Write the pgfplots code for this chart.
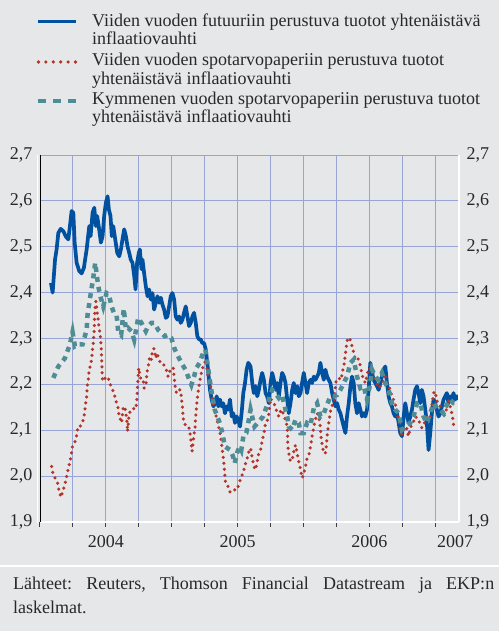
\documentclass[border=0pt]{standalone}
\usepackage{fontspec}
\setmainfont{Liberation Serif}
\usepackage{pgfplots}
\pgfplotsset{compat=1.18}
\definecolor{bg}{RGB}{230,231,233}
\definecolor{gridc}{RGB}{152,163,214}
\definecolor{fut}{RGB}{0,82,160}
\definecolor{spotfive}{RGB}{180,52,42}
\definecolor{spotten}{RGB}{78,140,150}
\definecolor{txt}{RGB}{40,40,40}
\newcommand{\fs}{\fontsize{18}{19}\selectfont}
\frenchspacing
\pgfplotsset{
  commay/.style={
    yticklabel style={
      /pgf/number format/fixed,
      /pgf/number format/fixed zerofill,
      /pgf/number format/precision=1,
      /pgf/number format/use comma,
      /pgf/number format/assume math mode=true}
  }
}

\begin{document}
\frenchspacing
\begin{tikzpicture}
\fill[bg] (0pt,0pt) rectangle (499pt,631pt);
\useasboundingbox (0pt,0pt) rectangle (499pt,631pt);

% legend
\draw[fut, line width=3.8pt] (38pt,609.5pt) -- (76pt,609.5pt);
\node[anchor=base west, font=\fs, text=txt, inner sep=0pt] at (92pt,604.3pt) {Viiden vuoden futuuriin perustuva tuotot yhtenäistävä};
\node[anchor=base west, font=\fs, text=txt, inner sep=0pt] at (92pt,586pt) {inflaatiovauhti};
\draw[spotfive, line width=3.6pt, line cap=round, dash pattern=on 0pt off 7.4pt] (38.5pt,569pt) -- (77pt,569pt);
\node[anchor=base west, font=\fs, text=txt, inner sep=0pt] at (92pt,565pt) {Viiden vuoden spotarvopaperiin perustuva tuotot};
\node[anchor=base west, font=\fs, text=txt, inner sep=0pt] at (92pt,546pt) {yhtenäistävä inflaatiovauhti};
\draw[spotten, line width=4.5pt, dash pattern=on 8pt off 7pt] (38pt,530pt) -- (77pt,530pt);
\node[anchor=base west, font=\fs, text=txt, inner sep=0pt] at (92pt,526pt) {Kymmenen vuoden spotarvopaperiin perustuva tuotot};
\node[anchor=base west, font=\fs, text=txt, inner sep=0pt] at (92pt,508pt) {yhtenäistävä inflaatiovauhti};

% separator and source
\fill[white] (0pt,63.5pt) rectangle (499pt,65.5pt);
\node[anchor=base west, font=\fs, text=txt, inner sep=0pt] at (13pt,41pt) {\makebox[481pt][s]{Lähteet: Reuters, Thomson Financial Datastream ja EKP:n}};
\node[anchor=base west, font=\fs, text=txt, inner sep=0pt] at (13pt,17.5pt) {laskelmat.};

\draw[white, line width=1.3pt] (37.6pt,108pt) -- (37.6pt,476pt);

\begin{axis}[
  at={(40pt,109pt)}, anchor=south west, scale only axis,
  width=419pt, height=367pt,
  xmin=2004, xmax=2007.18, ymin=1.9, ymax=2.7,
  axis x line*=bottom, axis y line*=left,
  x axis line style={white, line width=1.6pt},
  y axis line style={black, line width=0.9pt},
  xtick={2004.5,2005.5,2006.5,2007.15},
  xticklabels={2004,2005,2006,2007},
  minor xtick={2004,2004.25,2004.5,2004.75,2005,2005.25,2005.5,2005.75,2006,2006.25,2006.5,2006.75,2007},
  major tick length=0pt, minor tick length=5pt,
  xtick align=outside,
  minor x tick style={draw={rgb,255:red,60;green,60;blue,60}, line width=1pt},
  xmajorgrids=false, xminorgrids=true, ymajorgrids=true,
  grid style={gridc, line width=0.9pt},
  minor grid style={gridc, line width=0.9pt},
  ytick={1.9,2.0,2.1,2.2,2.3,2.4,2.5,2.6,2.7},
  ytick style={draw=none},
  ticklabel style={font=\fs, text=txt},
  commay,
  yticklabel style={anchor=east, xshift=-4pt},
  xticklabel style={anchor=base, yshift=-26pt},
  axis background/.style={fill=bg},
]
% five-year futures based
\addplot[fut, line width=3.7pt, line join=round] table {
2004.083 2.421
2004.096 2.400
2004.114 2.472
2004.126 2.494
2004.139 2.530
2004.157 2.539
2004.177 2.534
2004.197 2.522
2004.215 2.516
2004.227 2.545
2004.240 2.578
2004.253 2.574
2004.263 2.509
2004.278 2.465
2004.298 2.447
2004.316 2.442
2004.333 2.454
2004.354 2.494
2004.374 2.545
2004.384 2.523
2004.399 2.574
2004.412 2.585
2004.424 2.545
2004.434 2.567
2004.449 2.538
2004.462 2.509
2004.475 2.523
2004.487 2.567
2004.500 2.596
2004.513 2.610
2004.523 2.581
2004.535 2.567
2004.545 2.523
2004.556 2.545
2004.571 2.516
2004.586 2.487
2004.601 2.479
2004.614 2.494
2004.626 2.516
2004.639 2.538
2004.652 2.523
2004.664 2.501
2004.677 2.487
2004.689 2.472
2004.702 2.465
2004.715 2.436
2004.725 2.407
2004.737 2.465
2004.750 2.487
2004.758 2.494
2004.770 2.451
2004.778 2.472
2004.790 2.443
2004.803 2.414
2004.816 2.392
2004.828 2.407
2004.841 2.385
2004.854 2.399
2004.866 2.363
2004.879 2.378
2004.891 2.392
2004.904 2.378
2004.917 2.389
2004.929 2.374
2004.942 2.363
2004.955 2.345
2004.967 2.348
2004.980 2.370
2004.992 2.392
2005.005 2.399
2005.018 2.385
2005.030 2.348
2005.043 2.341
2005.056 2.348
2005.068 2.334
2005.081 2.341
2005.093 2.356
2005.106 2.370
2005.119 2.348
2005.131 2.327
2005.144 2.334
2005.157 2.348
2005.169 2.356
2005.182 2.334
2005.194 2.305
2005.207 2.298
2005.220 2.298
2005.232 2.290
2005.245 2.290
2005.258 2.276
2005.270 2.247
2005.280 2.217
2005.290 2.188
2005.303 2.167
2005.316 2.152
2005.328 2.159
2005.341 2.174
2005.354 2.152
2005.366 2.167
2005.379 2.152
2005.391 2.159
2005.404 2.137
2005.417 2.152
2005.429 2.145
2005.442 2.167
2005.455 2.130
2005.467 2.137
2005.480 2.116
2005.492 2.130
2005.505 2.123
2005.518 2.108
2005.530 2.137
2005.543 2.181
2005.556 2.203
2005.568 2.232
2005.581 2.247
2005.598 2.239
2005.611 2.203
2005.623 2.181
2005.636 2.196
2005.649 2.174
2005.661 2.188
2005.674 2.210
2005.686 2.225
2005.699 2.210
2005.712 2.181
2005.724 2.174
2005.737 2.159
2005.750 2.203
2005.762 2.225
2005.775 2.210
2005.787 2.188
2005.800 2.203
2005.813 2.174
2005.825 2.203
2005.838 2.225
2005.851 2.217
2005.863 2.203
2005.876 2.167
2005.888 2.137
2005.901 2.159
2005.914 2.188
2005.926 2.203
2005.939 2.181
2005.952 2.196
2005.964 2.174
2005.977 2.181
2005.989 2.203
2006.002 2.225
2006.015 2.203
2006.027 2.181
2006.040 2.203
2006.053 2.210
2006.065 2.203
2006.078 2.217
2006.090 2.210
2006.103 2.217
2006.116 2.225
2006.128 2.247
2006.141 2.225
2006.154 2.210
2006.166 2.232
2006.179 2.217
2006.191 2.210
2006.204 2.203
2006.217 2.181
2006.229 2.167
2006.242 2.152
2006.255 2.159
2006.267 2.145
2006.280 2.137
2006.292 2.123
2006.305 2.108
2006.318 2.094
2006.330 2.130
2006.343 2.159
2006.356 2.196
2006.368 2.217
2006.381 2.203
2006.393 2.159
2006.406 2.137
2006.419 2.159
2006.431 2.145
2006.444 2.130
2006.457 2.137
2006.469 2.130
2006.482 2.145
2006.494 2.188
2006.507 2.247
2006.520 2.225
2006.532 2.210
2006.545 2.203
2006.558 2.196
2006.570 2.188
2006.583 2.203
2006.595 2.217
2006.608 2.232
2006.621 2.239
2006.633 2.203
2006.646 2.174
2006.659 2.159
2006.671 2.152
2006.684 2.137
2006.696 2.130
2006.709 2.137
2006.722 2.116
2006.734 2.094
2006.747 2.087
2006.760 2.130
2006.772 2.159
2006.785 2.137
2006.797 2.116
2006.810 2.130
2006.823 2.145
2006.835 2.167
2006.848 2.188
2006.861 2.196
2006.873 2.181
2006.886 2.159
2006.898 2.188
2006.911 2.174
2006.924 2.145
2006.936 2.116
2006.949 2.057
2006.962 2.094
2006.974 2.137
2006.987 2.167
2006.999 2.159
2007.012 2.145
2007.025 2.130
2007.037 2.137
2007.050 2.152
2007.063 2.167
2007.075 2.174
2007.088 2.181
2007.100 2.159
2007.113 2.174
2007.126 2.167
2007.138 2.181
2007.151 2.167
2007.164 2.174
2007.176 2.167
};
% five-year spot based
\addplot[spotfive, line width=3.5pt, line cap=round, line join=round, dash pattern=on 0pt off 6pt] table {
2004.088 2.021
2004.101 2.003
2004.114 1.996
2004.131 1.988
2004.144 1.970
2004.159 1.954
2004.177 1.970
2004.194 1.988
2004.207 2.006
2004.222 2.025
2004.235 2.043
2004.247 2.065
2004.260 2.072
2004.273 2.079
2004.280 2.094
2004.290 2.108
2004.303 2.108
2004.316 2.112
2004.328 2.123
2004.338 2.137
2004.346 2.155
2004.354 2.174
2004.359 2.196
2004.366 2.210
2004.374 2.232
2004.384 2.243
2004.391 2.254
2004.399 2.276
2004.404 2.290
2004.409 2.308
2004.412 2.327
2004.414 2.345
2004.417 2.363
2004.419 2.374
2004.424 2.381
2004.429 2.370
2004.434 2.356
2004.442 2.341
2004.447 2.327
2004.455 2.312
2004.460 2.298
2004.465 2.279
2004.467 2.261
2004.470 2.243
2004.472 2.225
2004.475 2.207
2004.485 2.210
2004.495 2.214
2004.505 2.217
2004.518 2.214
2004.530 2.203
2004.543 2.192
2004.556 2.185
2004.568 2.174
2004.581 2.159
2004.593 2.148
2004.601 2.130
2004.611 2.123
2004.619 2.116
2004.631 2.148
2004.644 2.152
2004.652 2.137
2004.662 2.112
2004.664 2.097
2004.677 2.137
2004.694 2.145
2004.707 2.148
2004.720 2.145
2004.732 2.155
2004.737 2.174
2004.740 2.196
2004.745 2.217
2004.750 2.236
2004.758 2.217
2004.770 2.210
2004.783 2.210
2004.790 2.192
2004.803 2.196
2004.813 2.228
2004.826 2.247
2004.833 2.261
2004.846 2.254
2004.854 2.276
2004.866 2.278
2004.879 2.257
2004.889 2.268
2004.902 2.254
2004.914 2.247
2004.927 2.247
2004.939 2.243
2004.952 2.236
2004.965 2.228
2004.972 2.217
2004.985 2.228
2004.997 2.236
2005.010 2.236
2005.018 2.217
2005.023 2.203
2005.030 2.185
2005.040 2.181
2005.053 2.188
2005.066 2.188
2005.073 2.170
2005.081 2.152
2005.086 2.130
2005.091 2.116
2005.104 2.112
2005.116 2.108
2005.129 2.108
2005.141 2.090
2005.149 2.068
2005.154 2.054
2005.162 2.072
2005.169 2.090
2005.177 2.108
2005.182 2.130
2005.187 2.148
2005.194 2.170
2005.202 2.188
2005.212 2.207
2005.225 2.225
2005.237 2.239
2005.250 2.247
2005.258 2.254
2005.268 2.232
2005.275 2.217
2005.283 2.210
2005.293 2.199
2005.301 2.185
2005.308 2.170
2005.318 2.152
2005.331 2.137
2005.343 2.123
2005.356 2.108
2005.366 2.094
2005.376 2.076
2005.384 2.057
2005.391 2.039
2005.396 2.025
2005.402 2.006
2005.407 1.988
2005.419 1.985
2005.439 1.966
2005.457 1.964
2005.477 1.970
2005.495 1.970
2005.508 1.981
2005.520 1.992
2005.535 2.003
2005.548 2.014
2005.561 2.028
2005.573 2.039
2005.586 2.054
2005.598 2.061
2005.611 2.039
2005.623 2.021
2005.636 2.014
2005.649 2.032
2005.661 2.050
2005.674 2.057
2005.686 2.076
2005.699 2.094
2005.712 2.116
2005.724 2.119
2005.737 2.137
2005.750 2.170
2005.762 2.163
2005.775 2.159
2005.787 2.152
2005.800 2.137
2005.813 2.130
2005.825 2.141
2005.838 2.145
2005.851 2.130
2005.863 2.123
2005.876 2.108
2005.881 2.068
2005.888 2.050
2005.901 2.032
2005.914 2.036
2005.926 2.054
2005.939 2.068
2005.952 2.050
2005.964 2.032
2005.977 2.014
2005.989 1.996
2006.002 2.006
2006.015 2.021
2006.027 2.039
2006.040 2.046
2006.053 2.065
2006.065 2.086
2006.078 2.108
2006.090 2.123
2006.103 2.137
2006.116 2.130
2006.128 2.105
2006.133 2.086
2006.141 2.068
2006.154 2.050
2006.166 2.050
2006.174 2.068
2006.179 2.086
2006.186 2.105
2006.199 2.130
2006.209 2.148
2006.224 2.159
2006.237 2.174
2006.242 2.196
2006.249 2.210
2006.267 2.214
2006.285 2.210
2006.297 2.228
2006.310 2.247
2006.318 2.268
2006.325 2.283
2006.335 2.301
2006.350 2.301
2006.361 2.290
2006.373 2.279
2006.386 2.261
2006.398 2.254
2006.411 2.257
2006.424 2.250
2006.436 2.232
2006.449 2.217
2006.469 2.203
2006.494 2.236
2006.520 2.232
2006.545 2.210
2006.570 2.192
2006.595 2.199
2006.621 2.217
2006.633 2.203
2006.659 2.188
2006.671 2.174
2006.696 2.159
2006.709 2.137
2006.722 2.123
2006.734 2.101
2006.747 2.090
2006.760 2.101
2006.780 2.108
2006.797 2.087
2006.810 2.105
2006.835 2.119
2006.848 2.130
2006.873 2.123
2006.886 2.112
2006.898 2.105
2006.924 2.119
2006.936 2.130
2006.962 2.127
2006.974 2.152
2006.982 2.170
2006.992 2.185
2007.007 2.174
2007.017 2.159
2007.037 2.152
2007.050 2.137
2007.063 2.130
2007.075 2.137
2007.088 2.148
2007.100 2.167
2007.113 2.152
2007.126 2.137
2007.143 2.105
};
% ten-year spot based
\addplot[spotten, line width=4.5pt, dash pattern=on 5pt off 5pt] table {
2004.101 2.214
2004.139 2.239
2004.189 2.257
2004.227 2.287
2004.247 2.314
2004.265 2.283
2004.290 2.287
2004.323 2.287
2004.354 2.319
2004.361 2.352
2004.384 2.396
2004.404 2.432
2004.419 2.465
2004.442 2.414
2004.462 2.388
2004.480 2.370
2004.505 2.399
2004.523 2.396
2004.543 2.370
2004.561 2.356
2004.581 2.352
2004.593 2.316
2004.616 2.308
2004.636 2.365
2004.652 2.319
2004.669 2.323
2004.694 2.316
2004.715 2.297
2004.732 2.323
2004.745 2.345
2004.770 2.334
2004.803 2.316
2004.821 2.327
2004.846 2.334
2004.871 2.334
2004.896 2.319
2004.922 2.312
2004.947 2.305
2004.972 2.308
2004.997 2.301
2005.023 2.276
2005.048 2.261
2005.073 2.247
2005.104 2.232
2005.124 2.217
2005.149 2.199
2005.169 2.217
2005.187 2.236
2005.212 2.247
2005.237 2.268
2005.255 2.276
2005.270 2.247
2005.288 2.210
2005.308 2.174
2005.326 2.145
2005.346 2.130
2005.364 2.116
2005.384 2.094
2005.402 2.065
2005.422 2.061
2005.444 2.057
2005.465 2.043
2005.477 2.028
2005.495 2.050
2005.515 2.065
2005.528 2.057
2005.545 2.090
2005.566 2.094
2005.581 2.116
2005.598 2.145
2005.628 2.108
2005.694 2.130
2005.712 2.145
2005.762 2.188
2005.787 2.181
2005.813 2.170
2005.838 2.177
2005.851 2.159
2005.876 2.130
2005.888 2.108
2005.914 2.101
2005.939 2.123
2005.964 2.116
2005.977 2.094
2006.002 2.094
2006.027 2.116
2006.053 2.112
2006.078 2.148
2006.103 2.159
2006.128 2.130
2006.154 2.137
2006.179 2.156
2006.204 2.174
2006.229 2.174
2006.255 2.177
2006.280 2.188
2006.305 2.203
2006.330 2.217
2006.356 2.247
2006.381 2.254
2006.406 2.217
2006.431 2.192
2006.457 2.196
2006.482 2.167
2006.507 2.203
2006.520 2.232
2006.545 2.217
2006.570 2.210
2006.595 2.225
2006.621 2.203
2006.646 2.188
2006.671 2.159
2006.696 2.145
2006.722 2.137
2006.747 2.101
2006.772 2.108
2006.810 2.116
2006.835 2.130
2006.861 2.159
2006.886 2.159
2006.911 2.130
2006.936 2.116
2006.962 2.137
2006.987 2.159
2007.012 2.148
2007.037 2.145
2007.063 2.137
2007.088 2.156
2007.113 2.167
2007.138 2.159
2007.164 2.159
};
\end{axis}

\begin{axis}[
  at={(40pt,109pt)}, anchor=south west, scale only axis,
  width=419pt, height=367pt,
  xmin=2004, xmax=2007.18, ymin=1.9, ymax=2.7,
  axis x line=none, axis y line*=right,
  y axis line style={white, line width=1.6pt},
  ytick={1.9,2.0,2.1,2.2,2.3,2.4,2.5,2.6,2.7},
  ytick style={draw=none},
  ticklabel style={font=\fs, text=txt},
  commay,
  yticklabel style={anchor=west, xshift=4pt},
]
\end{axis}
\end{tikzpicture}
\end{document}
